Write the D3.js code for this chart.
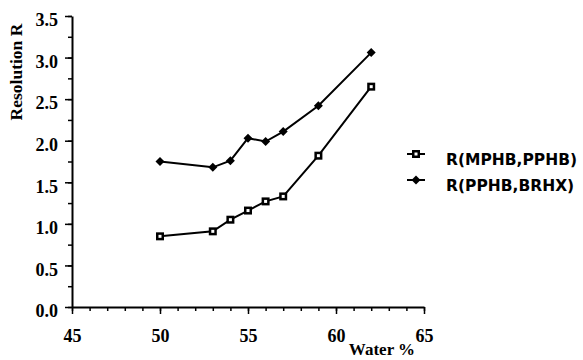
<!DOCTYPE html>
<html>
<head>
<meta charset="utf-8">
<script src="https://cdn.jsdelivr.net/npm/d3@7"></script>
<style>
  body { margin: 0; background: #fff; }
</style>
</head>
<body>
<div id="chart"></div>
<script>
// data
var water = [50, 53, 54, 55, 56, 57, 59, 62]
var rMphbPphb = [0.85, 0.91, 1.05, 1.16, 1.27, 1.33, 1.82, 2.65]
var rPphbBrhx = [1.75, 1.68, 1.76, 2.03, 1.99, 2.11, 2.42, 3.06]
var seriesNames = ['R(MPHB,PPHB)', 'R(PPHB,BRHX)']
var xTicks = [45, 50, 55, 60, 65]
var yTicks = [0.0, 0.5, 1.0, 1.5, 2.0, 2.5, 3.0, 3.5]

var width = 583
var height = 360
var margin = { top: 16, left: 72, right: 159, bottom: 53 }

var svg = d3
  .select('#chart')
  .append('svg')
  .attr('width', width)
  .attr('height', height)

var x = d3
  .scaleLinear()
  .domain([45, 65])
  .range([margin.left, width - margin.right])

var y = d3
  .scaleLinear()
  .domain([0, 3.5])
  .range([height - margin.bottom, margin.top])

// minor ticks first
svg
  .append('g')
  .attr('transform', 'translate(0,' + y(0) + ')')
  .call(d3.axisBottom(x).tickValues(d3.range(45, 66, 1)).tickSize(4).tickFormat(''))
  .call(g => g.select('.domain').remove())
svg
  .append('g')
  .attr('transform', 'translate(' + x(45) + ',0)')
  .call(d3.axisLeft(y).tickValues(d3.range(0, 3.51, 0.25)).tickSize(4).tickFormat(''))
  .call(g => g.select('.domain').remove())

// major axes
var xAxis = svg
  .append('g')
  .attr('transform', 'translate(0,' + y(0) + ')')
  .call(d3.axisBottom(x).tickValues(xTicks).tickSize(7).tickSizeOuter(0).tickPadding(15).tickFormat(d3.format('d')))
var yAxis = svg
  .append('g')
  .attr('transform', 'translate(' + x(45) + ',0)')
  .call(d3.axisLeft(y).tickValues(yTicks).tickSize(7).tickSizeOuter(0).tickPadding(7).tickFormat(d3.format('.1f')))

svg.selectAll('.tick text')
  .style('font-family', "'Liberation Serif', serif")
  .style('font-size', '18px')
  .style('font-weight', 'bold')
yAxis.selectAll('.tick text').attr('dy', '0.54em')

svg.selectAll('.domain').attr('stroke-width', 2)
svg.selectAll('.tick line').attr('stroke-width', 1.5)

// axis titles
svg
  .append('text')
  .attr('x', 382)
  .attr('y', 355)
  .attr('text-anchor', 'middle')
  .style('font-family', "'Liberation Serif', serif")
  .style('font-weight', 'bold')
  .style('font-size', '17px')
  .text('Water %')

svg
  .append('text')
  .attr('transform', 'translate(22,' + 72 + ') rotate(-90)')
  .attr('text-anchor', 'middle')
  .style('font-family', "'Liberation Serif', serif")
  .style('font-weight', 'bold')
  .style('font-size', '17.5px')
  .text('Resolution R')

var line = d3
  .line()
  .x(d => x(d[0]))
  .y(d => y(d[1]))

var s1 = water.map((w, i) => [w, rMphbPphb[i]])
var s2 = water.map((w, i) => [w, rPphbBrhx[i]])

svg.append('path').datum(s1).attr('d', line).attr('fill', 'none').attr('stroke', '#000').attr('stroke-width', 2)
svg.append('path').datum(s2).attr('d', line).attr('fill', 'none').attr('stroke', '#000').attr('stroke-width', 2)

function square (g, cx, cy) {
  g.append('rect').attr('x', cx - 2.75).attr('y', cy - 2.75).attr('width', 5.5).attr('height', 5.5)
    .attr('fill', '#fff').attr('stroke', '#000').attr('stroke-width', 2.5)
}
function diamond (g, cx, cy) {
  g.append('path')
    .attr('d', 'M' + cx + ',' + (cy - 4.5) + 'L' + (cx + 4.5) + ',' + cy + 'L' + cx + ',' + (cy + 4.5) + 'L' + (cx - 4.5) + ',' + cy + 'Z')
    .attr('fill', '#000')
}

var marks = svg.append('g')
s1.forEach(d => square(marks, x(d[0]), y(d[1])))
s2.forEach(d => diamond(marks, x(d[0]), y(d[1])))

// legend
var legend = svg.append('g')
var ly = [154, 180]
seriesNames.forEach((name, i) => {
  legend.append('line').attr('x1', 407).attr('x2', 425).attr('y1', ly[i]).attr('y2', ly[i])
    .attr('stroke', '#000').attr('stroke-width', 2)
  if (i === 0) square(legend, 416, ly[i])
  else diamond(legend, 416, ly[i])
  legend.append('text')
    .attr('x', 446)
    .attr('y', ly[i] + 11)
    .style('font-family', "'DejaVu Sans', sans-serif")
    .style('font-size', '15.5px')
    .style('font-weight', 'bold')
    .text(name)
})
</script>
</body>
</html>
